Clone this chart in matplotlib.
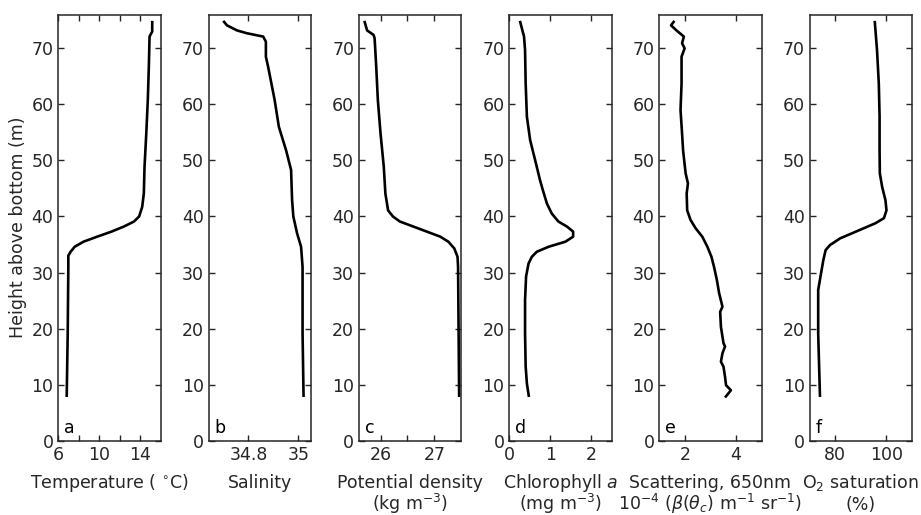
import matplotlib
matplotlib.use("Agg")
import matplotlib.pyplot as plt

plt.rcParams['mathtext.fontset'] = 'dejavusans'
TXT = '#262626'
FS = 12.5

# ---- data (height above bottom in m, value) ----
temp_h = [7.8, 19.1, 31.0, 33.0, 33.7, 34.6, 35.5, 36.4, 37.3, 38.2, 39.1, 40.0, 41.7, 44.1, 48.9, 54.8, 60.8, 66.7, 72.1, 73.0, 74.9]
temp_v = [6.82, 6.92, 6.98, 6.98, 7.2, 7.6, 8.46, 9.8, 11.2, 12.4, 13.4, 13.9, 14.2, 14.36, 14.43, 14.6, 14.75, 14.85, 14.92, 15.18, 15.18]

sal_h = [7.8, 19.1, 31.0, 34.6, 37.0, 40.0, 42.9, 48.3, 51.8, 56.0, 60.8, 66.7, 68.5, 71.2, 72.1, 72.7, 73.2, 74.1, 74.9]
sal_v = [35.021, 35.017, 35.017, 35.011, 34.995, 34.98, 34.975, 34.971, 34.951, 34.922, 34.905, 34.879, 34.870, 34.870, 34.859, 34.793, 34.754, 34.714, 34.699]

dens_h = [7.8, 31.0, 32.8, 34.3, 35.5, 36.4, 37.3, 38.2, 39.1, 40.0, 41.1, 44.1, 48.9, 54.8, 60.8, 66.7, 71.8, 72.4, 73.2, 74.9]
dens_v = [27.46, 27.44, 27.43, 27.37, 27.26, 27.11, 26.86, 26.61, 26.36, 26.23, 26.14, 26.09, 26.06, 26.0, 25.95, 25.92, 25.89, 25.87, 25.75, 25.70]

chl_h = [7.8, 10.2, 13.2, 19.1, 25.1, 29.3, 31.6, 32.8, 33.7, 34.6, 35.5, 36.4, 37.3, 38.2, 39.1, 40.5, 42.3, 44.7, 46.5, 50.1, 53.6, 57.8, 63.7, 69.7, 72.1, 73.2, 74.9]
chl_v = [0.48, 0.43, 0.40, 0.385, 0.385, 0.41, 0.47, 0.55, 0.67, 0.96, 1.37, 1.56, 1.56, 1.41, 1.20, 1.04, 0.92, 0.82, 0.75, 0.63, 0.51, 0.43, 0.40, 0.385, 0.36, 0.32, 0.26]

scat_h = [7.7, 8.1, 9.0, 9.9, 11.4, 13.2, 14.1, 15.6, 16.8, 17.4, 20.3, 23.0, 23.9, 26.3, 28.7, 31.0, 32.8, 34.6, 36.4, 37.9, 39.4, 41.1, 44.1, 45.9, 47.7, 48.9, 51.8, 54.8, 59.0, 63.7, 68.5, 70.0, 70.9, 72.1, 73.2, 74.1, 74.9]
scat_v = [3.57, 3.64, 3.80, 3.61, 3.57, 3.51, 3.41, 3.47, 3.57, 3.51, 3.41, 3.38, 3.47, 3.34, 3.25, 3.14, 3.04, 2.88, 2.68, 2.42, 2.22, 2.09, 2.07, 2.12, 2.03, 2.0, 1.93, 1.89, 1.83, 1.87, 1.87, 1.99, 1.89, 1.96, 1.67, 1.46, 1.59]

oxy_h = [7.8, 19.1, 26.9, 29.3, 32.2, 34.0, 34.9, 36.1, 37.0, 37.9, 38.8, 39.7, 41.1, 42.9, 45.3, 47.7, 51.8, 57.8, 63.7, 69.7, 74.9]
oxy_v = [74.1, 73.4, 73.4, 74.3, 75.4, 76.3, 78.0, 82.0, 86.6, 91.2, 95.8, 99.1, 100.1, 99.7, 98.4, 97.5, 97.4, 97.4, 97.1, 96.4, 95.5]

letters = ['a', 'b', 'c', 'd', 'e', 'f']
xlabel_line1 = ['Temperature ( $^{\\circ}$C)',
                'Salinity',
                'Potential density',
                'Chlorophyll $a$',
                'Scattering, 650nm',
                'O$_2$ saturation']
xlabel_line2 = ['', '', '(kg m$^{-3}$)', '(mg m$^{-3}$)',
                '10$^{-4}$ ($\\beta(\\theta_c)$ m$^{-1}$ sr$^{-1}$)', '(%)']
xlims = [(6, 16), (34.64, 35.05), (25.6, 27.5), (0, 2.5), (1, 5), (70, 110)]
xticks = [[6, 8, 10, 12, 14], [34.8, 35.0], [26, 26.5, 27], [0, 1, 2], [2, 4], [80, 100]]
xticklabels = [['6', '', '10', '', '14'], ['34.8', '35'], ['26', '', '27'], ['0', '1', '2'], ['2', '4'], ['80', '100']]
yticks = [0, 10, 20, 30, 40, 50, 60, 70]

series = [(temp_v, temp_h), (sal_v, sal_h), (dens_v, dens_h), (chl_v, chl_h), (scat_v, scat_h), (oxy_v, oxy_h)]

fig = plt.figure(figsize=(9.21, 5.15), dpi=100)
W, H = 921.0, 515.0
lefts = [58.3, 208.5, 359.0, 509.3, 659.3, 809.5]
aw = 102.3
top_px, bot_px = 14.7, 440.7
ah = bot_px - top_px
base1 = (bot_px - 488.0) / ah
base2 = (bot_px - 510.0) / ah

for i, (xv, yv) in enumerate(series):
    ax = fig.add_axes([lefts[i] / W, (H - bot_px) / H, aw / W, ah / H])
    ax.plot(xv, yv, color='black', lw=1.9, solid_capstyle='butt')
    ax.set_xlim(*xlims[i])
    ax.set_ylim(0, 76)
    ax.set_xticks(xticks[i])
    ax.set_xticklabels(xticklabels[i])
    ax.set_yticks(yticks)
    ax.tick_params(direction='in', top=True, right=True, length=4, width=1.0,
                   labelsize=FS, colors=TXT, pad=3.5)
    for s in ax.spines.values():
        s.set_linewidth(1.1)
        s.set_color(TXT)
    ax.text(0.5, base1, xlabel_line1[i], transform=ax.transAxes, fontsize=FS,
            color=TXT, ha='center', va='baseline')
    if xlabel_line2[i]:
        ax.text(0.5, base2, xlabel_line2[i], transform=ax.transAxes, fontsize=FS,
                color=TXT, ha='center', va='baseline')
    ax.text(0.055, 0.018, letters[i], transform=ax.transAxes, fontsize=FS,
            color='black', ha='left', va='baseline')
    if i == 0:
        ax.set_ylabel('Height above bottom (m)', fontsize=FS, color=TXT, labelpad=3)

fig.savefig('out.png', dpi=100)
